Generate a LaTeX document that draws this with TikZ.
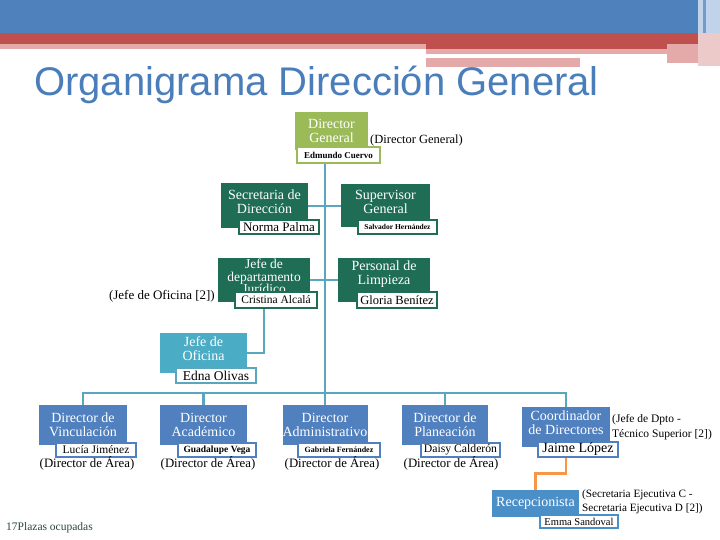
\documentclass[tikz,border=0pt]{standalone}
\usepackage{fontspec}
\setmainfont{Liberation Serif}
\newfontfamily\titlefont{Liberation Sans}
\usepackage{xcolor}
\definecolor{cBand}{HTML}{4F81BD}
\definecolor{cRed}{HTML}{C0504D}
\definecolor{cPink}{HTML}{E3AAA9}
\definecolor{cTitle}{HTML}{4A7EBB}
\definecolor{cGreenL}{HTML}{9BBB59}
\definecolor{cGreenD}{HTML}{1F6D55}
\definecolor{cTeal}{HTML}{4BACC6}
\definecolor{cLink}{HTML}{5BA6BF}
\definecolor{cBlue}{HTML}{5080BE}
\definecolor{cBlueR}{HTML}{4B8FC9}
\definecolor{cOrange}{HTML}{F79646}
\definecolor{cFoot}{HTML}{2A4A3C}
\usepackage{tikz}
\usetikzlibrary{positioning,calc,backgrounds}
\tikzset{
  node-box/.style={inner sep=0pt,align=center,text=white,
    font=\fontsize{14}{14}\selectfont},
  node-top/.style={node-box,fill=cGreenL},
  node-staff/.style={node-box,fill=cGreenD},
  node-office/.style={node-box,fill=cTeal},
  node-area/.style={node-box,fill=cBlue,minimum height=40pt},
  node-reception/.style={node-box,fill=cBlueR},
  node-name/.style={draw=#1,line width=1.6pt,fill=white,inner sep=0pt,
    text=black,minimum height=14pt},
  node-note/.style={inner sep=0pt,align=left,text=black},
  link/.style={draw=cLink,line width=2.6pt},
  link-alt/.style={draw=cOrange,line width=2.6pt},
}

\begin{document}
\begin{tikzpicture}[x=1pt,y=-1pt]
  \useasboundingbox (0,0) rectangle (720,540);
  % bandas superiores
  \fill[cBand] (0,0) rectangle (698,33);
  \fill[cBand!35] (698,0) rectangle (720,33);
  \fill[cBand!80] (703,0) rectangle (706,33);
  \fill[cRed] (0,33) rectangle (698,44);
  \fill[cRed] (426,44) rectangle (667,49.5);
  \fill[cPink] (0,44) rectangle (426,49);
  \fill[cPink] (426,49.5) rectangle (667,54);
  \fill[cPink] (667,44) rectangle (698,63);
  \fill[cPink] (426,58) rectangle (580,67);
  \fill[cRed!30] (698,33) rectangle (720,66);

  \node[anchor=base west,inner sep=0pt,text=cTitle,
    font=\titlefont\fontsize{40}{40}\selectfont] (title) at (34,96)
    {Organigrama Dirección General};

  % dirección
  \node[node-top,minimum width=73pt,minimum height=38pt] (dg) at (331.5,131) {Director\\General};
  \node[node-name=cGreenL,minimum width=83pt,minimum height=16pt,
    font=\bfseries\fontsize{9}{9}\selectfont] (dgn) at (338.5,155) {Edmundo Cuervo};
  \node[node-note,anchor=west,font=\fontsize{12.5}{13}\selectfont] (dgnote) at (370,140) {(Director General)};

  \node[node-staff,minimum width=87pt,minimum height=45pt,text depth=9pt] (sec) at (264.5,206) {Secretaria de\\Dirección};
  \node[node-name=cGreenD,minimum width=80pt,font=\fontsize{13}{13}\selectfont] (secn) at (279,227) {Norma Palma};
  \node[node-staff,minimum width=89pt,minimum height=43pt,text depth=9pt] (sup) at (385.5,206) {Supervisor\\General};
  \node[node-name=cGreenD,minimum width=79pt,font=\bfseries\fontsize{7.5}{8}\selectfont] (supn) at (397.5,227) {Salvador Hernández};

  \node[node-staff,minimum width=92pt,minimum height=44pt,font=\fontsize{13.5}{12.5}\selectfont,text depth=7pt] (jur) at (264,280) {Jefe de\\departamento\\Jurídico};
  \node[node-name=cGreenD,minimum width=82pt,minimum height=16pt,font=\fontsize{11.5}{12}\selectfont] (jurn) at (276,300) {Cristina Alcalá};
  \node[node-note,anchor=east,font=\fontsize{13}{13}\selectfont] (jurnote) at (215,296) {(Jefe de Oficina [2])};
  \node[node-staff,minimum width=92pt,minimum height=44pt,text depth=15pt] (lim) at (384,280) {Personal de\\Limpieza};
  \node[node-name=cGreenD,minimum width=80pt,minimum height=16pt,font=\fontsize{12.5}{13}\selectfont] (limn) at (397,300) {Gloria Benítez};

  \node[node-office,minimum width=87pt,minimum height=40pt,text depth=9pt] (ofi) at (203.5,353) {Jefe de\\Oficina};
  \node[node-name=cLink,minimum width=80pt,minimum height=15pt,font=\fontsize{13.5}{14}\selectfont] (ofin) at (216,375.5) {Edna Olivas};

  % direcciones de área
  \node[node-area,minimum width=88pt] (vin) at (83,425) {Director de\\Vinculación};
  \node[node-name=cBlue,minimum width=80pt,font=\fontsize{11.5}{12}\selectfont] (vinn) at (96,450) {Lucía Jiménez};
  \node[node-note,font=\fontsize{12.8}{13}\selectfont] (vinnote) at (87,463) {(Director de Área)};

  \node[node-area,minimum width=87pt] (aca) at (203.5,425) {Director\\Académico};
  \node[node-name=cBlue,minimum width=78pt,font=\bfseries\fontsize{9.5}{10}\selectfont] (acan) at (217,450) {Guadalupe Vega};
  \node[node-note,font=\fontsize{12.8}{13}\selectfont] (acanote) at (208,463) {(Director de Área)};

  \node[node-area,minimum width=85pt] (adm) at (325,425) {Director\\Administrativo};
  \node[node-name=cBlue,minimum width=82pt,font=\bfseries\fontsize{8}{8}\selectfont] (admn) at (339,450) {Gabriela Fernández};
  \node[node-note,font=\fontsize{12.8}{13}\selectfont] (admnote) at (332,463) {(Director de Área)};

  \node[node-area,minimum width=86pt] (pla) at (445,425) {Director de\\Planeación};
  \node[node-name=cBlue,minimum width=79pt,font=\fontsize{11.7}{12}\selectfont] (plan) at (460.5,450) {Daisy Calderón};
  \node[node-note,font=\fontsize{12.8}{13}\selectfont] (planote) at (451,463) {(Director de Área)};

  \node[node-area,minimum width=88pt,text depth=9pt] (coo) at (566,427) {Coordinador\\de Directores};
  \node[node-name=cBlue,minimum width=80pt,minimum height=15pt,font=\fontsize{14}{14}\selectfont] (coon) at (578,449.5) {Jaime López};
  \node[node-note,anchor=west,font=\fontsize{11.5}{15}\selectfont] (coonote) at (612,427.5) {(Jefe de Dpto -\\Técnico Superior [2])};

  \node[node-reception,minimum width=87pt,minimum height=27pt] (rec) at (535.5,503.5) {Recepcionista};
  \node[node-name=cBlueR,minimum width=78pt,minimum height=13pt,font=\fontsize{10.5}{11}\selectfont] (recn) at (579,521.5) {Emma Sandoval};
  \node[node-note,anchor=west,font=\fontsize{11.2}{14}\selectfont] (recnote) at (582,502) {(Secretaria Ejecutiva C -\\Secretaria Ejecutiva D [2])};

  \node[node-note,anchor=west,text=cFoot,font=\fontsize{11.5}{12}\selectfont] (foot) at (6,528) {17Plazas ocupadas};

  \coordinate (bus) at (325,393);
  \begin{scope}[on background layer]
    \draw[link] (dg.south -| bus) -- (adm.north);
    \draw[link] (sec.east) -- (sup.west);
    \draw[link] (jur.east) -- (lim.west);
    \draw[link] (jur.south) |- (ofi.east);
    \draw[link] (vin.north) |- (bus) -| (coo.north);
    \draw[link] (aca.north) -- (aca.north |- bus);
    \draw[link] (pla.north) -- (pla.north |- bus);
    \draw[link-alt] (coo.south) -- ++(0,26) -| (rec.north);
  \end{scope}
\end{tikzpicture}
\end{document}
